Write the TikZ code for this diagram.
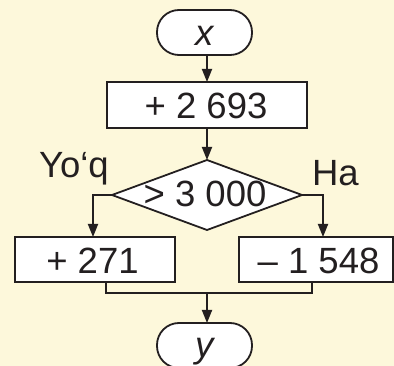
\documentclass[tikz,border=0pt]{standalone}
\usepackage{fontspec}
\setmainfont{Liberation Sans}
\usetikzlibrary{shapes.geometric,arrows.meta}
\definecolor{bg}{HTML}{FDF8DB}
\definecolor{ink}{HTML}{231F20}
\begin{document}
\begin{tikzpicture}[x=1pt,y=-1pt,
  every node/.style={inner sep=0pt, outer sep=0pt, font=\fontsize{36.5}{42}\selectfont, text=ink},
  shapebox/.style={draw=ink, line width=1.8pt, fill=white},
  procbox/.style={shapebox, rectangle},
  termbox/.style={shapebox, rectangle, rounded corners=22pt},
  decbox/.style={shapebox, diamond},
  conn/.style={draw=ink, line width=1.8pt},
  arr/.style={conn, -{Triangle[length=13pt,width=10pt]}},
  lbl/.style={anchor=base west},
  digits/.style={text height=26pt, text depth=0pt}
]
\fill[bg] (0,0) rectangle (394,366);
\useasboundingbox (0,0) rectangle (394,366);

% shapes
\node[termbox, minimum width=95pt, minimum height=45pt, text height=27pt, text depth=0pt] (tx) at (204.5,32.5) {\itshape x};
\node[procbox, minimum width=200pt, minimum height=46pt] (b1) at (207,105) {};
\node[digits] (b1t) at (206,105.5) {+ 2 693};
\node[decbox, minimum width=190pt, minimum height=70pt] (d) at (207,195) {};
\node[digits] (dt) at (205,193.5) {> 3 000};
\node[procbox, minimum width=160pt, minimum height=45pt] (b2) at (95,259.5) {};
\node[digits] (b2t) at (92.5,260.5) {+ 271};
\node[procbox, minimum width=154pt, minimum height=45pt] (b3) at (316,259.5) {};
\node[digits] (b3t) at (318.5,260.5) {– 1 548};
\node[termbox, minimum width=95pt, minimum height=45pt, text height=25pt, text depth=0pt] (ty) at (204.5,345.5) {\itshape y};

% labels
\node[lbl] (no) at (39,178) {Yo‘q};
\node[lbl] (yes) at (312,186) {Ha};

% connectors
\draw[arr] (b1.north |- tx.south) -- (b1.north);
\draw[arr] (b1.south) -- (d.north);
\draw[arr] (d.west) -| ([xshift=-2pt]b2.north);
\draw[arr] (d.east) -| ([xshift=7pt]b3.north);
\coordinate (m) at (207,293);
\draw[conn] ([xshift=11pt]b2.south) |- (m) -| ([xshift=-4pt]b3.south);
\draw[arr] (m) -- (m |- ty.north);
\end{tikzpicture}
\end{document}
